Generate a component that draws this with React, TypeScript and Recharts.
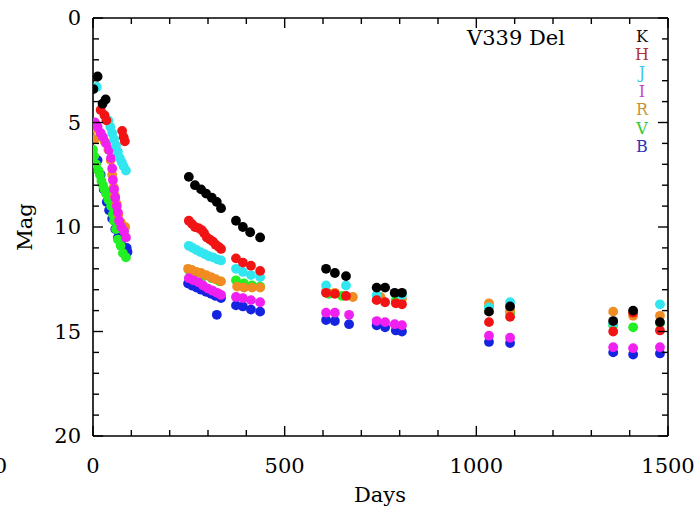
import { ScatterChart, Scatter, XAxis, YAxis } from 'recharts'

// light curve of V339 Del, days since outburst vs magnitude per band
type Pt = [number, number]

const bandNames = ['K', 'H', 'J', 'I', 'R', 'V', 'B']

const kBand: Pt[] = [
  [1, 3.4], [12, 2.8], [25, 4.1], [33, 3.9],
  [250, 7.6], [266, 8.0], [282, 8.2], [295, 8.4], [310, 8.6], [323, 8.8], [334, 9.1],
  [373, 9.7], [391, 10.0], [410, 10.25], [436, 10.5],
  [608, 12.0], [631, 12.2], [660, 12.35],
  [740, 12.9], [762, 12.9], [787, 13.15], [806, 13.15],
  [1033, 14.05], [1088, 13.8],
  [1357, 14.5], [1409, 14.0], [1479, 14.55],
]

const hBand: Pt[] = [
  [20, 4.4], [30, 4.65], [35, 4.9], [76, 5.4], [80, 5.7], [83, 5.9],
  [250, 9.7], [258, 9.85], [266, 10.0], [275, 10.05], [284, 10.15], [290, 10.3], [297, 10.5],
  [305, 10.6], [313, 10.7], [320, 10.85], [328, 10.95], [334, 11.05],
  [373, 11.5], [391, 11.7], [412, 11.85], [436, 12.1],
  [608, 13.15], [631, 13.2], [660, 13.3],
  [740, 13.5], [762, 13.6], [790, 13.65], [806, 13.7],
  [1033, 14.55], [1088, 14.3],
  [1357, 15.0], [1409, 14.1], [1479, 14.95],
]

const jBand: Pt[] = [
  [10, 3.3], [40, 4.9], [45, 5.2], [50, 5.5], [55, 5.8], [60, 6.1], [65, 6.4], [70, 6.7],
  [75, 6.9], [80, 7.1], [86, 7.3],
  [250, 10.9], [260, 11.0], [270, 11.1], [280, 11.2], [292, 11.3], [302, 11.4], [313, 11.45],
  [324, 11.55], [334, 11.6],
  [373, 12.0], [391, 12.15], [412, 12.3], [436, 12.4],
  [608, 12.8], [660, 12.8],
  [740, 13.25], [806, 13.25],
  [1033, 13.85], [1088, 13.6],
  [1357, 14.6], [1479, 13.7],
]

const iBand: Pt[] = [
  [5, 5.0], [12, 5.2], [20, 5.5], [26, 5.7], [34, 6.0], [42, 6.3], [47, 6.7], [50, 7.2],
  [52, 7.75], [55, 8.2], [58, 8.6], [62, 9.0], [65, 9.3], [68, 9.7], [74, 10.0], [81, 10.2], [86, 10.5],
  [250, 12.45], [262, 12.55], [275, 12.65], [287, 12.8], [300, 12.95], [312, 13.05], [324, 13.15], [334, 13.25],
  [373, 13.35], [391, 13.4], [412, 13.5], [436, 13.6],
  [608, 14.1], [631, 14.1], [668, 14.2],
  [740, 14.5], [762, 14.55], [787, 14.65], [806, 14.7],
  [1033, 15.2], [1088, 15.3],
  [1357, 15.75], [1409, 15.8], [1479, 15.75],
]

const rBand: Pt[] = [
  [2, 5.3], [4, 5.8], [20, 5.6], [30, 5.9], [40, 6.3], [46, 6.8], [50, 7.5], [54, 8.1],
  [57, 8.5], [62, 8.9], [66, 9.4], [73, 9.8], [84, 10.0],
  [248, 12.0], [258, 12.05], [270, 12.15], [282, 12.2], [295, 12.3], [308, 12.4], [320, 12.5], [334, 12.6],
  [376, 12.85], [394, 12.9], [415, 12.9], [436, 12.9],
  [608, 13.1], [631, 13.15], [678, 13.35],
  [750, 13.35], [806, 13.45],
  [1033, 13.65], [1088, 14.0],
  [1357, 14.05], [1409, 14.25], [1479, 14.25],
]

const vBand: Pt[] = [
  [0, 6.3], [3, 6.6], [8, 7.0], [14, 7.3], [18, 7.5], [22, 7.8], [26, 8.0], [30, 8.2],
  [34, 8.4], [40, 8.7], [47, 9.0], [52, 9.4], [55, 9.7], [60, 10.1], [65, 10.6], [72, 10.9],
  [78, 11.25], [86, 11.45],
  [250, 12.05], [270, 12.2], [290, 12.35], [310, 12.45], [330, 12.6],
  [373, 12.55], [394, 12.7], [415, 12.8], [436, 12.85],
  [615, 13.2], [650, 13.3],
  [750, 13.4], [790, 13.5],
  [1033, 13.8], [1088, 14.1],
  [1357, 14.7], [1409, 14.8], [1479, 14.6],
]

const bBand: Pt[] = [
  [12, 6.8], [20, 7.5], [28, 8.2], [36, 8.8], [42, 9.2], [50, 9.6], [58, 10.1], [65, 10.5],
  [75, 10.9], [88, 11.0], [90, 11.2],
  [248, 12.7], [258, 12.8], [270, 12.9], [282, 13.0], [295, 13.1], [308, 13.2], [320, 13.3], [334, 13.4],
  [323, 14.2],
  [373, 13.75], [391, 13.8], [412, 13.95], [436, 14.05],
  [608, 14.45], [631, 14.5], [668, 14.65],
  [740, 14.7], [762, 14.8], [790, 14.95], [806, 15.0],
  [1033, 15.5], [1088, 15.55],
  [1357, 16.0], [1409, 16.1], [1479, 16.05],
]

const xTicks = [0, 100, 200, 300, 400, 500, 600, 700, 800, 900, 1000, 1100, 1200, 1300, 1400, 1500]
const yTicks = [0, 1, 2, 3, 4, 5, 6, 7, 8, 9, 10, 11, 12, 13, 14, 15, 16, 17, 18, 19, 20]

const dotColors: Record<string, string> = {
  K: '#000000', H: '#f01414', J: '#32e6f0', I: '#f020f0', R: '#f08c22', V: '#22f022', B: '#1424e0',
}
const legendColors: Record<string, string> = {
  K: '#111111', H: '#b23232', J: '#3cc8e6', I: '#c846c8', R: '#c8962d', V: '#32c832', B: '#3232b4',
}

const font = '"DejaVu Serif", serif'

const toRows = (pts: Pt[]) => pts.map(([day, mag]) => ({ day, mag }))

// draw order: B first, K on top
const series: [string, Pt[]][] = [
  ['B', bBand], ['V', vBand], ['R', rBand], ['I', iBand], ['J', jBand], ['H', hBand], ['K', kBand],
]

const Dot = (p: any) => <circle cx={p.cx} cy={p.cy} r={4.9} fill={p.fill} />

const LeftTick = (p: any) => {
  const v = p.payload.value
  const major = v % 5 === 0
  return (
    <g>
      <line x1={p.x} y1={p.y} x2={p.x + (major ? 10 : 6)} y2={p.y} stroke="#000" strokeWidth={1.4} />
      {major && (
        <text x={p.x - 12} y={p.y} textAnchor="end" dominantBaseline="central" fontFamily={font} fontSize={21} fill="#000">
          {v}
        </text>
      )}
    </g>
  )
}

const RightTick = (p: any) => {
  const major = p.payload.value % 5 === 0
  return <line x1={p.x} y1={p.y} x2={p.x - (major ? 10 : 6)} y2={p.y} stroke="#000" strokeWidth={1.4} />
}

const BottomTick = (p: any) => {
  const v = p.payload.value
  const major = v % 500 === 0
  return (
    <g>
      <line x1={p.x} y1={p.y} x2={p.x} y2={p.y - (major ? 10 : 6)} stroke="#000" strokeWidth={1.4} />
      {major && (
        <text x={p.x} y={p.y + 30} textAnchor="middle" dominantBaseline="central" fontFamily={font} fontSize={21} fill="#000">
          {v}
        </text>
      )}
    </g>
  )
}

const TopTick = (p: any) => {
  const major = p.payload.value % 500 === 0
  return <line x1={p.x} y1={p.y} x2={p.x} y2={p.y + (major ? 10 : 6)} stroke="#000" strokeWidth={1.4} />
}

const axisStroke = { stroke: '#000', strokeWidth: 1.6 }

export default function App() {
  return (
    <div style={{ position: 'absolute', left: 0, top: 0, width: 698, height: 507, background: '#fff' }}>
      <ScatterChart width={698} height={507} margin={{ top: 0, right: 0, bottom: 0, left: 0 }}>
        <XAxis xAxisId="main" dataKey="day" type="number" domain={[0, 1500]} ticks={xTicks} interval={0}
          allowDataOverflow height={71} tickSize={0} tickMargin={0} tickLine={false}
          axisLine={axisStroke} tick={<BottomTick />} />
        <XAxis xAxisId="top" orientation="top" dataKey="day" type="number" domain={[0, 1500]} ticks={xTicks}
          interval={0} allowDataOverflow height={18} tickSize={0} tickMargin={0} tickLine={false}
          axisLine={axisStroke} tick={<TopTick />} />
        <YAxis yAxisId="main" dataKey="mag" type="number" domain={[0, 20]} reversed ticks={yTicks} interval={0}
          allowDataOverflow width={93} tickSize={0} tickMargin={0} tickLine={false}
          axisLine={axisStroke} tick={<LeftTick />} />
        <YAxis yAxisId="right" orientation="right" dataKey="mag" type="number" domain={[0, 20]} reversed
          ticks={yTicks} interval={0} allowDataOverflow width={30} tickSize={0} tickMargin={0} tickLine={false}
          axisLine={axisStroke} tick={<RightTick />} />
        <Scatter xAxisId="top" yAxisId="right" data={toRows(kBand)} fill="none" shape={() => <g />}
          isAnimationActive={false} />
        {series.map(([name, pts]) => (
          <Scatter key={name} name={name} xAxisId="main" yAxisId="main" data={toRows(pts)}
            fill={dotColors[name]} shape={<Dot />} isAnimationActive={false} />
        ))}
      </ScatterChart>
      <svg width={698} height={507} style={{ position: 'absolute', left: 0, top: 0, pointerEvents: 'none' }}>
        <text x={467} y={38} fontFamily={font} fontSize={21} fill="#000" dominantBaseline="central">V339 Del</text>
        {bandNames.map((b, i) => (
          <text key={b} x={642} y={36 + i * 18.4} textAnchor="middle" dominantBaseline="central"
            fontFamily={font} fontSize={16} fill={legendColors[b]}>
            {b}
          </text>
        ))}
        <text x={25} y={227} textAnchor="middle" dominantBaseline="central" fontFamily={font} fontSize={21}
          transform="rotate(-90 25 227)">Mag</text>
        <text x={380} y={495} textAnchor="middle" dominantBaseline="central" fontFamily={font} fontSize={21}>Days</text>
        <text x={7} y={466} textAnchor="end" dominantBaseline="central" fontFamily={font} fontSize={21}>1500</text>
      </svg>
    </div>
  )
}
